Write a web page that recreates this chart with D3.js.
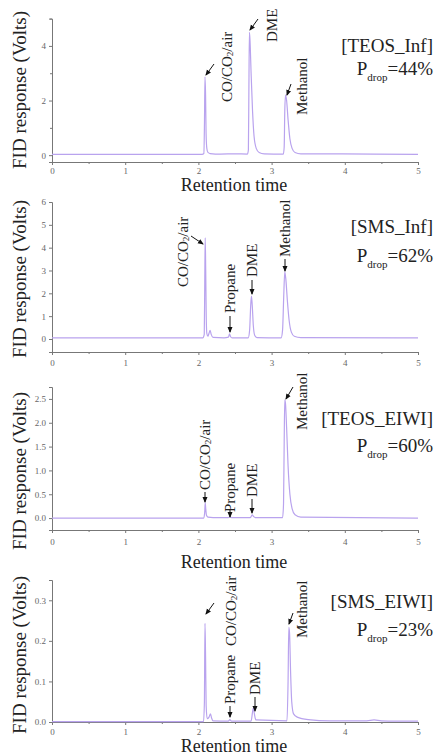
<!DOCTYPE html>
<html><head><meta charset="utf-8">
<script src="https://cdn.jsdelivr.net/npm/d3@7"></script>
<style>body{margin:0;background:#fff}svg{display:block}</style>
</head><body><svg id="c" width="441" height="755"></svg>
<script>
// ---------------- DATA ----------------
const xTicks = [0, 1, 2, 3, 4, 5];
const xMinorTicks = [0.5, 1.5, 2.5, 3.5, 4.5];
const sampleNames = ["[TEOS_Inf]", "[SMS_Inf]", "[TEOS_EIWI]", "[SMS_EIWI]"];
const pdropValues = ["44%", "62%", "60%", "23%"];
const yTicks1 = [0, 2, 4];
const yTicks2 = [0, 1, 2, 3, 4, 5, 6];
const yTicks3 = [0, 0.5, 1.0, 1.5, 2.0, 2.5];
const yTicks4 = [0, 0.1, 0.2, 0.3];
const peakNames1 = ["CO/CO2/air", "DME", "Methanol"];
const peakNames2 = ["CO/CO2/air", "Propane", "DME", "Methanol"];
const peakNames3 = ["CO/CO2/air", "Propane", "DME", "Methanol"];
const peakNames4 = ["CO/CO2/air", "Propane", "DME", "Methanol"];

// chromatograms: [retention time, FID response (V)]
const trace1 = [[0,0.03],[2.05,0.03],[2.075,0.06],[2.083,1.2],[2.09,2.87],[2.098,2.2],[2.105,0.8],[2.115,0.25],[2.13,0.1],[2.16,0.06],[2.3,0.04],[2.5,0.05],[2.67,0.04],[2.683,0.2],[2.69,2.5],[2.697,4.5],[2.705,4.2],[2.72,3.0],[2.74,1.6],[2.76,0.7],[2.79,0.25],[2.83,0.1],[2.9,0.05],[3.16,0.04],[3.172,0.3],[3.18,1.6],[3.19,2.2],[3.205,2.0],[3.225,1.3],[3.25,0.6],[3.28,0.25],[3.32,0.1],[3.4,0.05],[4.4,0.04],[5.0,0.03]];
const trace2 = [[0,0.05],[2.06,0.05],[2.08,0.2],[2.087,2.5],[2.093,4.43],[2.1,3.0],[2.107,1.0],[2.115,0.25],[2.13,0.12],[2.145,0.25],[2.16,0.38],[2.175,0.2],[2.2,0.07],[2.35,0.05],[2.41,0.08],[2.425,0.22],[2.44,0.1],[2.46,0.05],[2.68,0.05],[2.70,0.4],[2.715,1.5],[2.725,1.88],[2.735,1.5],[2.75,0.6],[2.77,0.15],[2.8,0.06],[3.13,0.05],[3.15,0.4],[3.165,1.8],[3.18,2.94],[3.195,2.6],[3.215,1.7],[3.24,0.8],[3.27,0.3],[3.31,0.12],[3.4,0.06],[5,0.05]];
const trace3 = [[0,0.0],[2.07,0.0],[2.085,0.1],[2.093,0.32],[2.1,0.2],[2.11,0.06],[2.13,0.02],[2.2,0.01],[2.41,0.01],[2.43,0.03],[2.45,0.01],[2.71,0.01],[2.735,0.07],[2.755,0.03],[2.78,0.01],[3.15,0.01],[3.163,0.3],[3.172,1.6],[3.18,2.48],[3.19,2.4],[3.205,1.9],[3.225,1.1],[3.25,0.5],[3.28,0.2],[3.32,0.07],[3.4,0.02],[5,0.0]];
const trace4 = [[0,0.001],[2.07,0.001],[2.082,0.05],[2.09,0.243],[2.098,0.16],[2.106,0.04],[2.12,0.008],[2.145,0.012],[2.165,0.02],[2.18,0.01],[2.2,0.003],[2.41,0.002],[2.43,0.006],[2.45,0.002],[2.72,0.002],[2.74,0.025],[2.752,0.035],[2.765,0.02],[2.785,0.005],[3.21,0.003],[3.225,0.1],[3.235,0.233],[3.245,0.22],[3.26,0.12],[3.275,0.05],[3.3,0.02],[3.35,0.012],[3.5,0.006],[3.8,0.003],[4.3,0.003],[4.4,0.005],[4.5,0.003],[5,0.002]];

// ---------------- LAYOUT ----------------
const FONT = "'Liberation Serif','Times New Roman',serif";
const LINE = "#b9a3ee";
const AXIS = "#777";
const panels = [
  { trace: trace1, yTicks: yTicks1, yMinor: [1,3,5], fmt: d3.format("d"), yDomain: [-0.25, 5.0], yRange: [162, 18.6],
    names: peakNames1, ylabY: 90, tickLabY: 174, rtY: 191, titleY: 52, pY: 75,
    lab: [ {cx:227, by:102, a:[214,64,206,75]}, {cx:272, by:42, a:[258,19,250,30]}, {cx:302, by:115, a:[291,84,287,95]} ] },
  { trace: trace2, yTicks: yTicks2, yMinor: [], fmt: d3.format("d"), yDomain: [-0.57, 6], yRange: [352, 202],
    names: peakNames2, ylabY: 279, tickLabY: 366, rtY: null, titleY: 233, pY: 262,
    lab: [ {cx:183, by:287, a:[191,236,203,244]}, {cx:230, by:313, a:[230,316,230,332]}, {cx:252, by:277, a:[252,280,252,294]}, {cx:285, by:257, a:[285,259,285,271]} ] },
  { trace: trace3, yTicks: yTicks3, yMinor: [], fmt: d3.format(".1f"), yDomain: [-0.25, 2.75], yRange: [530, 387],
    names: peakNames3, ylabY: 471, tickLabY: 545, rtY: 568, titleY: 425, pY: 452,
    lab: [ {cx:205, by:490, a:[205,492,205,502]}, {cx:230, by:512, a:[230,510,230,517]}, {cx:252, by:497, a:[252,499,252,513]}, {cx:302, by:430, a:[293,387,286,399]} ] },
  { trace: trace4, yTicks: yTicks4, yMinor: [], fmt: d3.format(".1f"), yDomain: [0, 0.35], yRange: [722, 580],
    names: peakNames4, ylabY: 655, tickLabY: 735, rtY: 752, titleY: 608, pY: 636,
    lab: [ {cx:231, by:646, a:[214,603,206,614]}, {cx:230, by:704, a:[230,706,230,717]}, {cx:255, by:695, a:[255,697,255,711]}, {cx:302, by:638, a:[293,613,289,624]} ] }
];

const svg = d3.select("#c");
svg.append("rect").attr("width", 441).attr("height", 755).attr("fill", "#fff");
svg.append("defs").append("marker")
  .attr("id", "arr").attr("markerUnits", "userSpaceOnUse")
  .attr("markerWidth", 6).attr("markerHeight", 6).attr("refX", 5).attr("refY", 3)
  .attr("orient", "auto")
  .append("path").attr("d", "M0,0.5 L6,3 L0,5.5 z").attr("fill", "#111");

const x = d3.scaleLinear().domain([0, 5]).range([52, 418]);

function writeLabel(sel, name) {
  if (name.indexOf("CO2") >= 0) {
    const parts = name.split("CO2");
    sel.append("tspan").text(parts[0] + "CO");
    sel.append("tspan").attr("font-size", 9).attr("dy", 3).text("2");
    sel.append("tspan").attr("dy", -3).text(parts[1]);
  } else sel.text(name);
}

panels.forEach((p, i) => {
  const y = d3.scaleLinear().domain(p.yDomain).range(p.yRange);
  const g = svg.append("g");
  const y0 = p.yRange[0];

  // axes
  const xAxis = g.append("g").attr("transform", `translate(0,${y0})`)
    .call(d3.axisBottom(x).tickValues(xTicks).tickSize(3).tickPadding(4).tickFormat(d3.format("d")));
  g.append("g").attr("transform", `translate(0,${y0})`)
    .call(d3.axisBottom(x).tickValues(xMinorTicks).tickSize(2).tickFormat(""))
    .select(".domain").remove();
  const yAxis = g.append("g").attr("transform", `translate(${x.range()[0]},0)`)
    .call(d3.axisLeft(y).tickValues(p.yTicks).tickSize(3).tickPadding(3).tickFormat(p.fmt));
  if (p.yMinor.length) g.append("g").attr("transform", `translate(${x.range()[0]},0)`)
    .call(d3.axisLeft(y).tickValues(p.yMinor).tickSize(2).tickFormat(""))
    .select(".domain").remove();
  g.selectAll(".domain").attr("stroke", AXIS).attr("stroke-width", 1);
  g.selectAll(".tick line").attr("stroke", AXIS);
  g.selectAll(".tick text").attr("fill", "#666").attr("font-family", FONT).attr("font-size", 9);
  xAxis.selectAll(".tick text").attr("y", p.tickLabY - y0).attr("dy", 0);

  // trace
  g.append("path").datum(p.trace)
    .attr("fill", "none").attr("stroke", LINE).attr("stroke-width", 1.2)
    .attr("d", d3.line().x(d => x(d[0])).y(d => y(d[1])).curve(d3.curveMonotoneX));

  // y label
  g.append("text").attr("transform", `translate(19,${p.ylabY}) rotate(-90)`)
    .attr("text-anchor", "middle").attr("dominant-baseline", "central")
    .attr("font-family", FONT).attr("font-size", 19).attr("fill", "#222")
    .text("FID response (Volts)");

  // x label
  if (p.rtY) g.append("text").attr("x", 234).attr("y", p.rtY).attr("text-anchor", "middle")
    .attr("font-family", FONT).attr("font-size", 18).attr("fill", "#222").text("Retention time");

  // sample name and pressure drop
  g.append("text").attr("x", 433).attr("y", p.titleY).attr("text-anchor", "end")
    .attr("font-family", FONT).attr("font-size", 19).attr("fill", "#222").text(sampleNames[i]);
  const pt = g.append("text").attr("x", 433).attr("y", p.pY).attr("text-anchor", "end")
    .attr("font-family", FONT).attr("font-size", 19).attr("fill", "#222");
  pt.append("tspan").text("P");
  pt.append("tspan").attr("font-size", 11).attr("dy", 6).text("drop");
  pt.append("tspan").attr("dy", -6).text("=" + pdropValues[i]);

  // peak labels
  p.names.forEach((name, k) => {
    const L = p.lab[k];
    const t = g.append("text").attr("transform", `translate(${L.cx},${L.by}) rotate(-90)`)
      .attr("dominant-baseline", "central")
      .attr("font-family", FONT).attr("font-size", 15).attr("fill", "#222");
    writeLabel(t, name);
    g.append("line").attr("x1", L.a[0]).attr("y1", L.a[1]).attr("x2", L.a[2]).attr("y2", L.a[3])
      .attr("stroke", "#111").attr("stroke-width", 1).attr("marker-end", "url(#arr)");
  });
});
</script></body></html>
